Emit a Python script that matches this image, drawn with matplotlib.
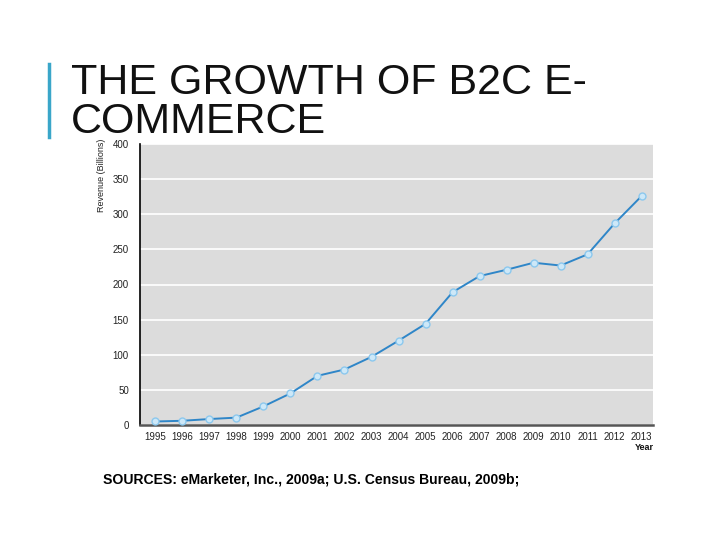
import matplotlib.pyplot as plt

years = list(range(1995, 2014))
revenue = [5, 6, 8.5, 10.5, 26.5, 45, 70, 79, 97, 120, 144, 189, 212, 221, 231, 227, 243, 287, 326]
y_ticks = [0, 50, 100, 150, 200, 250, 300, 350, 400]

plt.rcParams['font.family'] = ['Liberation Sans', 'DejaVu Sans']

fig = plt.figure(figsize=(7.2, 5.4), dpi=100)

# title block with blue bar at the left
fig.add_artist(plt.Line2D([49 / 720, 49 / 720], [1 - 64 / 540, 1 - 137 / 540],
                          color='#3aa6c9', linewidth=2.5))
fig.text(71 / 720, 1 - 63 / 540, 'THE GROWTH OF B2C E-\nCOMMERCE', fontsize=31,
         va='top', ha='left', linespacing=0.97, color='#111111')

ax = fig.add_axes([140 / 720, 1 - 425 / 540, 513 / 720, 281 / 540])
ax.set_facecolor('#dcdcdc')
ax.plot(years, revenue, color='#2f86c8', linewidth=1.4, marker='o', markersize=5,
        markerfacecolor='#cde8f8', markeredgecolor='#8cc8ee', markeredgewidth=1, zorder=3)

ax.set_xlim(1994.43, 2013.42)
ax.set_ylim(0, 400)
ax.set_yticks(y_ticks)
ax.set_xticks(years)
ax.grid(axis='y', color='white', linewidth=1.2)
ax.set_axisbelow(True)
ax.tick_params(axis='both', length=0, labelsize=7, colors='#222222')
ax.tick_params(axis='y', pad=8)
ax.tick_params(axis='x', pad=5)

for s in ['top', 'right']:
    ax.spines[s].set_visible(False)
ax.spines['left'].set_color('black')
ax.spines['left'].set_linewidth(1.2)
ax.spines['bottom'].set_color('#555555')
ax.spines['bottom'].set_linewidth(1.8)

fig.text(101 / 720, 1 - 175 / 540, 'Revenue (Billions)', rotation=90, fontsize=6.5,
         ha='center', va='center', color='#222222')
fig.text(654 / 720, 1 - 447 / 540, 'Year', fontsize=6.5, ha='right', va='center',
         color='#111111', fontweight='bold')

fig.text(103 / 720, 1 - 480 / 540,
         'SOURCES: eMarketer, Inc., 2009a; U.S. Census Bureau, 2009b;',
         fontsize=10.1, ha='left', va='center', color='black', fontweight='bold')

fig.savefig('out.png', dpi=100)
